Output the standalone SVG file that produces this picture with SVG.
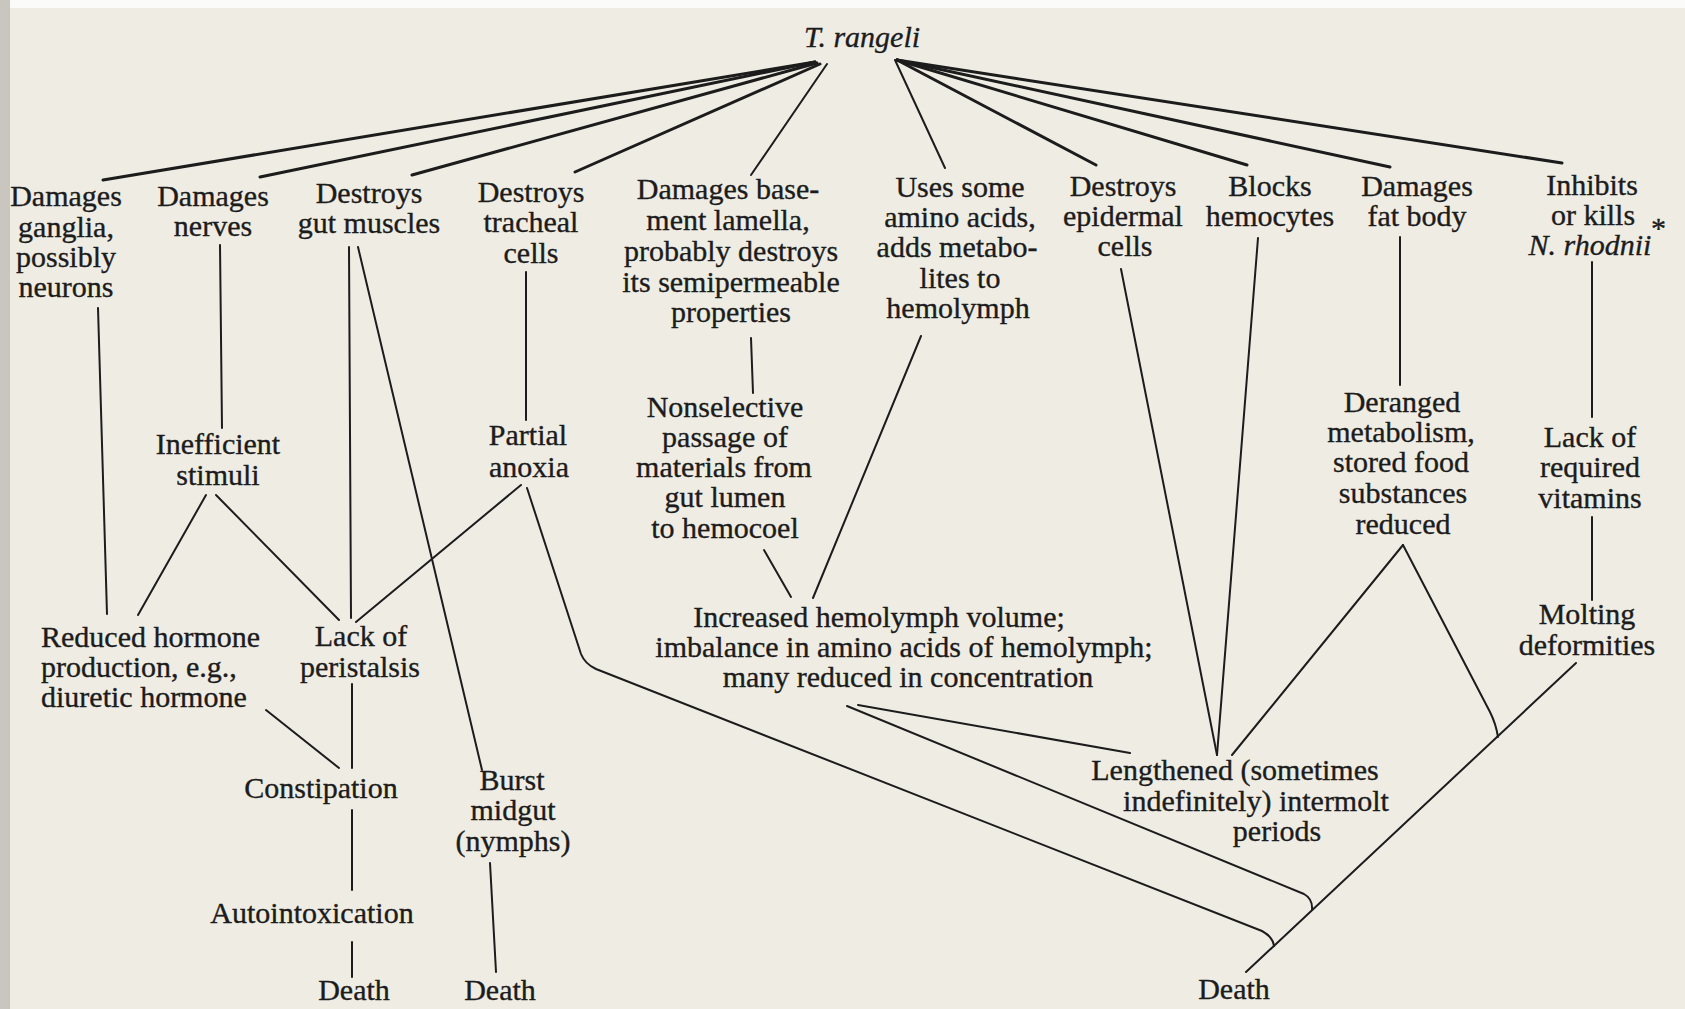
<svg xmlns="http://www.w3.org/2000/svg" width="1685" height="1009" viewBox="0 0 1685 1009">
<style>
text{font-family:"Liberation Serif","DejaVu Serif",serif;font-size:30px;fill:#1c1c1c;stroke:#1c1c1c;stroke-width:0.35}
.c{text-anchor:middle}
.i{font-style:italic}
.fan{stroke:#1c1c1c;stroke-width:3;fill:none;stroke-linecap:round}
.ln{stroke:#1c1c1c;stroke-width:2;fill:none;stroke-linecap:round;stroke-linejoin:round}
</style>
<rect x="0" y="0" width="1685" height="1009" fill="#efece4"/>
<rect x="0" y="0" width="1685" height="8" fill="#fbfbfa"/>
<rect x="0" y="0" width="10" height="1009" fill="#c9c6c0"/>

<g id="connectors">
  <line class="fan" x1="815" y1="62" x2="103" y2="180"/>
  <line class="fan" x1="815" y1="62" x2="260" y2="177"/>
  <line class="fan" x1="817" y1="63" x2="412" y2="175"/>
  <line class="fan" x1="820" y1="64" x2="575" y2="172"/>
  <line class="ln" x1="827" y1="64" x2="751" y2="175"/>
  <line class="ln" x1="895" y1="60" x2="945" y2="168"/>
  <line class="fan" x1="897" y1="60" x2="1096" y2="165"/>
  <line class="fan" x1="897" y1="60" x2="1247" y2="165"/>
  <line class="fan" x1="897" y1="60" x2="1390" y2="167"/>
  <line class="fan" x1="897" y1="60" x2="1562" y2="163"/>

  <line class="ln" x1="98" y1="308" x2="107" y2="614"/>
  <line class="ln" x1="220" y1="245" x2="222" y2="428"/>
  <line class="ln" x1="349" y1="247" x2="351" y2="618"/>
  <line class="ln" x1="358" y1="247" x2="482" y2="770"/>
  <line class="ln" x1="526" y1="272" x2="526" y2="420"/>
  <line class="ln" x1="751" y1="338" x2="753" y2="393"/>
  <line class="ln" x1="921" y1="336" x2="813" y2="598"/>
  <line class="ln" x1="764" y1="550" x2="791" y2="597"/>
  <line class="ln" x1="1121" y1="269" x2="1217" y2="755"/>
  <line class="ln" x1="1258" y1="238" x2="1217" y2="755"/>
  <line class="ln" x1="1400" y1="237" x2="1400" y2="385"/>
  <line class="ln" x1="1592" y1="262" x2="1592" y2="417"/>
  <line class="ln" x1="1592" y1="517" x2="1592" y2="600"/>

  <line class="ln" x1="206" y1="495" x2="138" y2="615"/>
  <line class="ln" x1="216" y1="495" x2="339" y2="620"/>
  <line class="ln" x1="521" y1="485" x2="356" y2="622"/>
  <path class="ln" d="M527,488 L581,654 Q585,664 596,669 L1262,931 Q1273,937 1274,946"/>

  <line class="ln" x1="266" y1="710" x2="339" y2="768"/>
  <line class="ln" x1="352" y1="684" x2="352" y2="768"/>
  <line class="ln" x1="352" y1="810" x2="352" y2="890"/>
  <line class="ln" x1="352" y1="942" x2="352" y2="977"/>
  <line class="ln" x1="490" y1="863" x2="496" y2="972"/>

  <line class="ln" x1="858" y1="705" x2="1130" y2="753"/>
  <path class="ln" d="M847,706 L1304,894 Q1313,899 1312,910"/>
  <line class="ln" x1="1403" y1="545" x2="1232" y2="755"/>
  <path class="ln" d="M1403,545 L1490,712 Q1496,724 1498,737"/>
  <line class="ln" x1="1576" y1="663" x2="1246" y2="972"/>
</g>

<g id="n-trangeli"><text class="c i" x="862" y="47">T. rangeli</text></g>

<g id="n-ganglia" class="node">
  <text class="c" x="66" y="206">Damages</text>
  <text class="c" x="66" y="237">ganglia,</text>
  <text class="c" x="66" y="267">possibly</text>
  <text class="c" x="66" y="297">neurons</text>
</g>
<g id="n-nerves">
  <text class="c" x="213" y="206">Damages</text>
  <text class="c" x="213" y="236">nerves</text>
</g>
<g id="n-gutmuscles">
  <text class="c" x="369" y="203">Destroys</text>
  <text class="c" x="369" y="233">gut muscles</text>
</g>
<g id="n-tracheal">
  <text class="c" x="531" y="202">Destroys</text>
  <text class="c" x="531" y="232">tracheal</text>
  <text class="c" x="531" y="263">cells</text>
</g>
<g id="n-basement">
  <text class="c" x="728" y="199">Damages base-</text>
  <text class="c" x="728" y="230">ment lamella,</text>
  <text class="c" x="731" y="261">probably destroys</text>
  <text class="c" x="731" y="292">its semipermeable</text>
  <text class="c" x="731" y="322">properties</text>
</g>
<g id="n-aminoacids">
  <text class="c" x="960" y="197">Uses some</text>
  <text class="c" x="960" y="227">amino acids,</text>
  <text class="c" x="957" y="257">adds metabo-</text>
  <text class="c" x="960" y="288">lites to</text>
  <text class="c" x="958" y="318">hemolymph</text>
</g>
<g id="n-epidermal">
  <text class="c" x="1123" y="196">Destroys</text>
  <text class="c" x="1123" y="226">epidermal</text>
  <text class="c" x="1125" y="256">cells</text>
</g>
<g id="n-hemocytes">
  <text class="c" x="1270" y="196">Blocks</text>
  <text class="c" x="1270" y="226">hemocytes</text>
</g>
<g id="n-fatbody">
  <text class="c" x="1417" y="196">Damages</text>
  <text class="c" x="1417" y="226">fat body</text>
</g>
<g id="n-inhibits">
  <text class="c" x="1592" y="195">Inhibits</text>
  <text class="c" x="1593" y="225">or kills</text>
  <text class="c i" x="1590" y="255">N. rhodnii</text>
  <text x="1651" y="238">*</text>
</g>

<g id="n-inefficient">
  <text class="c" x="218" y="454">Inefficient</text>
  <text class="c" x="218" y="485">stimuli</text>
</g>
<g id="n-anoxia">
  <text class="c" x="528" y="445">Partial</text>
  <text class="c" x="529" y="477">anoxia</text>
</g>
<g id="n-nonselective">
  <text class="c" x="725" y="417">Nonselective</text>
  <text class="c" x="725" y="447">passage of</text>
  <text class="c" x="724" y="477">materials from</text>
  <text class="c" x="725" y="507">gut lumen</text>
  <text class="c" x="725" y="538">to hemocoel</text>
</g>
<g id="n-deranged">
  <text class="c" x="1402" y="412">Deranged</text>
  <text class="c" x="1401" y="442">metabolism,</text>
  <text class="c" x="1401" y="472">stored food</text>
  <text class="c" x="1403" y="503">substances</text>
  <text class="c" x="1403" y="534">reduced</text>
</g>
<g id="n-vitamins">
  <text class="c" x="1590" y="447">Lack of</text>
  <text class="c" x="1590" y="477">required</text>
  <text class="c" x="1590" y="508">vitamins</text>
</g>
<g id="n-hormone">
  <text x="41" y="647">Reduced hormone</text>
  <text x="41" y="677">production, e.g.,</text>
  <text x="41" y="707">diuretic hormone</text>
</g>
<g id="n-peristalsis">
  <text class="c" x="361" y="646">Lack of</text>
  <text class="c" x="360" y="677">peristalsis</text>
</g>
<g id="n-hemolymph">
  <text class="c" x="879" y="627">Increased hemolymph volume;</text>
  <text class="c" x="904" y="657">imbalance in amino acids of hemolymph;</text>
  <text class="c" x="908" y="687">many reduced in concentration</text>
</g>
<g id="n-molting">
  <text class="c" x="1587" y="624">Molting</text>
  <text class="c" x="1587" y="655">deformities</text>
</g>
<g id="n-constipation"><text class="c" x="321" y="798">Constipation</text></g>
<g id="n-burst">
  <text class="c" x="512" y="790">Burst</text>
  <text class="c" x="513" y="820">midgut</text>
  <text class="c" x="513" y="851">(nymphs)</text>
</g>
<g id="n-lengthened">
  <text class="c" x="1235" y="780">Lengthened (sometimes</text>
  <text class="c" x="1256" y="811">indefinitely) intermolt</text>
  <text class="c" x="1277" y="841">periods</text>
</g>
<g id="n-autointox"><text class="c" x="312" y="923">Autointoxication</text></g>
<g id="n-death1"><text class="c" x="354" y="1000">Death</text></g>
<g id="n-death2"><text class="c" x="500" y="1000">Death</text></g>
<g id="n-death3"><text class="c" x="1234" y="999">Death</text></g>
</svg>
